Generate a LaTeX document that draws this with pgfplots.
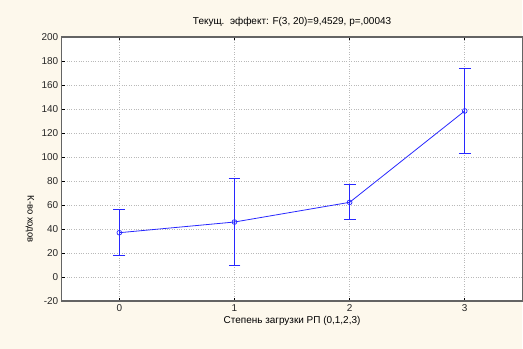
\documentclass[border=0pt]{standalone}
\usepackage{pgfplots}
\pgfplotsset{compat=1.18}
\usepackage{fontspec}
\setmainfont{Liberation Sans}
\usetikzlibrary{backgrounds,calc}
\definecolor{cream}{HTML}{FDF8EC}
\definecolor{lineblue}{RGB}{40,40,255}
\definecolor{axgray}{RGB}{100,100,100}
\begin{document}
\begin{tikzpicture}[x=1pt,y=1pt]
\begin{axis}[
  name=ax,
  scale only axis,
  width=462pt, height=265pt,
  xmin=-0.5, xmax=3.5,
  ymin=-20, ymax=200,
  xtick={0,1,2,3},
  ytick={-20,0,20,40,60,80,100,120,140,160,180,200},
  /pgf/number format/assume math mode=true,
  tick label style={font=\fontsize{10}{11}\selectfont, text=black!85},
  grid=major,
  major grid style={dotted, line width=0.6pt, gray!55},
  axis line style={axgray, line width=1.4pt},
  tick style={black, line width=0.6pt},
  major tick length=3pt,
  tick align=inside,
  xtick pos=both, ytick pos=left,
  title={Текущ.\ \ эффект: F(3, 20)=9,4529, p=,00043},
  title style={font=\fontsize{10}{11}\selectfont, yshift=1pt},
  xlabel={Степень загрузки РП (0,1,2,3)},
  xlabel style={font=\fontsize{10}{11}\selectfont, yshift=2pt},
  ylabel={К-во ходов},
  every axis y label/.style={at={(rel axis cs:0,0.31)}, xshift=-32pt, rotate=-90, anchor=center, font=\fontsize{9.5}{10}\selectfont},
  axis background/.style={fill=white},
]
\addplot[lineblue, line width=0.8pt, mark=o, mark size=2.4pt,
  mark options={fill=white, line width=0.7pt},
  error bars/.cd, y dir=both, y explicit,
  error bar style={draw=lineblue, line width=0.9pt},
  error mark options={draw=lineblue, color=lineblue, line width=0.9pt, mark size=6pt, rotate=90}]
coordinates {
  (0,36.9) +- (0,19.2)
  (1,45.8) +- (0,36.5)
  (2,62.2) +- (0,14.5)
  (3,138.3) +- (0,35.3)
};
\end{axis}
\begin{scope}[on background layer]
\fill[cream] ($(ax.south west)+(-62pt,-48pt)$) rectangle ($(ax.north east)+(0,37pt)$);
\end{scope}
\path[use as bounding box] ($(ax.south west)+(-62pt,-48pt)$) rectangle ($(ax.north east)+(0,37pt)$);
\end{tikzpicture}
\end{document}
